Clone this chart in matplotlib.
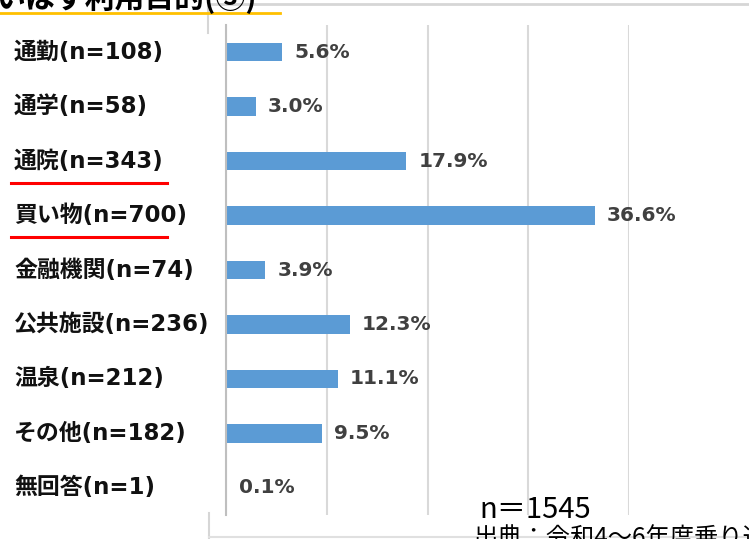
import matplotlib
matplotlib.use("Agg")
import matplotlib.pyplot as plt
from matplotlib.lines import Line2D
from matplotlib.transforms import blended_transform_factory

# ---- data ----
categories = ["通勤(n=108)", "通学(n=58)", "通院(n=343)", "買い物(n=700)",
              "金融機関(n=74)", "公共施設(n=236)", "温泉(n=212)",
              "その他(n=182)", "無回答(n=1)"]
shares = [5.6, 3.0, 17.9, 36.6, 3.9, 12.3, 11.1, 9.5, 0.1]
underlined = ["通院(n=343)", "買い物(n=700)"]
title = "いはす利用目的(③)"
total_note = "n＝1545"
source_note = "出典：令和4〜6年度乗り込み調査"

W, H = 749, 539
fig = plt.figure(figsize=(W / 100, H / 100), dpi=100)
fig.patch.set_facecolor("white")

def fx(px):
    return px / W

def fy(py):
    return 1 - py / H

ax = fig.add_axes([fx(226), fy(515), fx(629) - fx(226), fy(25) - fy(515)])
ypos = list(range(len(categories)))
ax.barh(ypos, shares, height=0.34, color="#5b9bd5", zorder=3)
ax.set_ylim(len(categories) - 0.5, -0.5)
ax.set_xlim(0, 40)
ax.set_xticks([0, 10, 20, 30, 40])
ax.grid(axis="x", color="#d9d9d9", lw=1.5, zorder=0)
ax.tick_params(left=False, bottom=False, labelleft=False, labelbottom=False)
for s in ["top", "right", "bottom"]:
    ax.spines[s].set_visible(False)
ax.spines["left"].set_color("#bfbfbf")
ax.spines["left"].set_linewidth(1.5)
ax.spines["left"].set_zorder(4)

lab_tr = blended_transform_factory(fig.transFigure, ax.transData)
for i, (cat, v) in enumerate(zip(categories, shares)):
    ax.text(fx(14), i, cat, transform=lab_tr, ha="left", va="center",
            fontsize=16.5, fontweight="bold", color="#111111",
            family=["DejaVu Sans", "Noto Sans CJK JP"])
    ax.annotate(f"{v:.1f}%", (v, i), xytext=(8.6, 0), textcoords="offset points",
                ha="left", va="center", fontsize=14.5, fontweight="bold",
                color="#404040", family="DejaVu Sans", annotation_clip=False)
    if cat in underlined:
        ax.add_line(Line2D([fx(11), fx(167)], [i + 0.4, i + 0.4], transform=lab_tr,
                           color="#ff0000", lw=2.2, clip_on=False))

# frame pieces of the slide
fig.add_artist(Line2D([fx(210), 1], [fy(4), fy(4)], color="#d6d6d6", lw=2))
fig.add_artist(Line2D([fx(208), fx(208)], [fy(4), fy(33)], color="#d6d6d6", lw=1.5))
fig.add_artist(Line2D([fx(209), fx(209)], [fy(513), 0], color="#d6d6d6", lw=1.5))
fig.add_artist(Line2D([fx(209), 1], [fy(537), fy(537)], color="#e0e0e0", lw=1.5))

# title (cut off at the top) with yellow underline
fig.text(fx(-4), fy(8), title, ha="left", va="baseline", fontsize=21.5,
         fontweight="bold", color="black", family="Noto Sans CJK JP")
fig.add_artist(Line2D([0, fx(280)], [fy(12.5), fy(12.5)], color="#ffc000", lw=2))

fig.text(fx(479), fy(518), total_note, ha="left", va="baseline", fontsize=21,
         color="black", family="Noto Sans CJK JP")
fig.text(fx(473), fy(546), source_note, ha="left", va="baseline", fontsize=17.5,
         color="black", family="Noto Sans CJK JP")

fig.savefig("out.png", dpi=100, facecolor="white")
